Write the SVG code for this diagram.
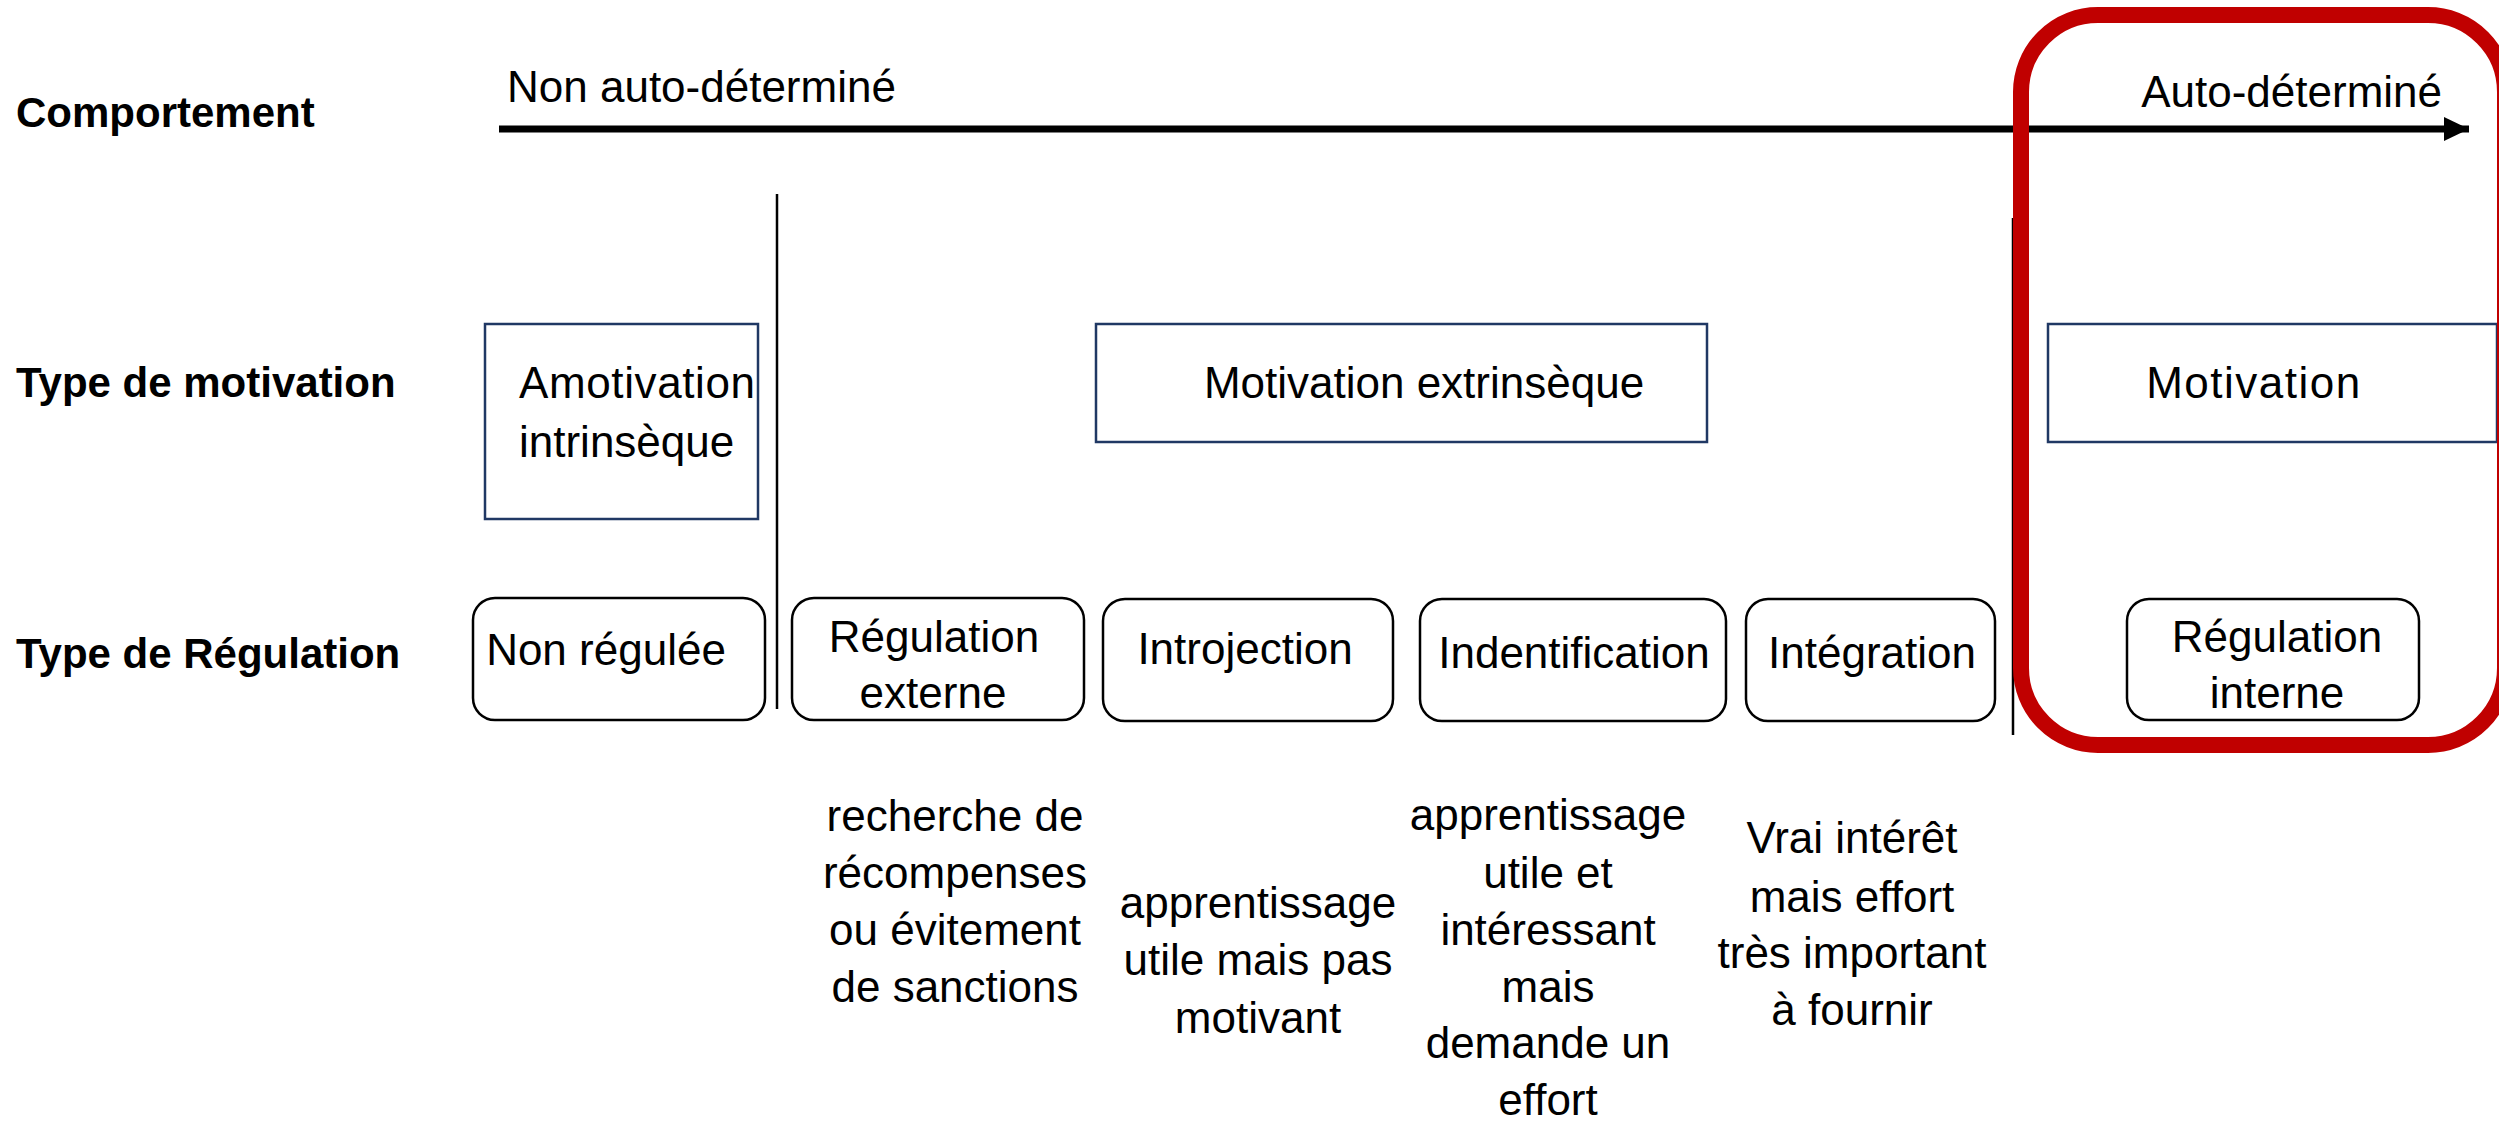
<svg xmlns="http://www.w3.org/2000/svg" width="2499" height="1122" viewBox="0 0 2499 1122">
<style>
text{font-family:"Liberation Sans",Arial,sans-serif;font-size:44px;fill:#000}
.lbl{font-weight:bold;font-size:42px}
.mid{text-anchor:middle}
.mbox{fill:#fff;stroke:#203864;stroke-width:2.5}
.rbox{fill:#fff;stroke:#000;stroke-width:2.5}
.sep{stroke:#000;stroke-width:2.5}
</style>
<defs>
<marker id="ah" markerUnits="userSpaceOnUse" markerWidth="26" markerHeight="26" refX="25" refY="12" orient="auto">
<path d="M0,0 L25,12 L0,24 Z" fill="#000"/>
</marker>
</defs>
<rect width="2499" height="1122" fill="#fff"/>
<g id="labels">
<text class="lbl" x="16" y="127">Comportement</text>
<text class="lbl" x="16" y="397">Type de motivation</text>
<text class="lbl" x="16" y="668">Type de Régulation</text>
</g>
<g id="connectors">
<line x1="499" y1="129" x2="2469" y2="129" stroke="#000" stroke-width="7" marker-end="url(#ah)"/>
<line class="sep" x1="777" y1="194" x2="777" y2="709"/>
<line class="sep" x1="2013" y1="218" x2="2013" y2="735"/>
</g>
<g id="axis-labels">
<text x="507" y="102">Non auto-déterminé</text>
<text x="2442" y="107" text-anchor="end">Auto-déterminé</text>
</g>
<g id="amotivation">
<rect class="mbox" x="485" y="324" width="273" height="195"/>
<text x="519" y="398" textLength="236">Amotivation</text>
<text x="519" y="457">intrinsèque</text>
</g>
<g id="motivation-extrinseque">
<rect class="mbox" x="1096" y="324" width="611" height="118"/>
<text class="mid" x="1424" y="398">Motivation extrinsèque</text>
</g>
<g id="motivation">
<rect class="mbox" x="2048" y="324" width="449" height="118"/>
<text class="mid" x="2254" y="398" letter-spacing="1.5">Motivation</text>
</g>
<g id="non-regulee">
<rect class="rbox" x="473" y="598" width="292" height="122" rx="22"/>
<text class="mid" x="606" y="665">Non régulée</text>
</g>
<g id="regulation-externe">
<rect class="rbox" x="792" y="598" width="292" height="122" rx="22"/>
<text class="mid" x="934" y="652">Régulation</text>
<text class="mid" x="933" y="708">externe</text>
</g>
<g id="introjection">
<rect class="rbox" x="1103" y="599" width="290" height="122" rx="22"/>
<text class="mid" x="1245" y="664">Introjection</text>
</g>
<g id="identification">
<rect class="rbox" x="1420" y="599" width="306" height="122" rx="22"/>
<text class="mid" x="1574" y="668">Indentification</text>
</g>
<g id="integration">
<rect class="rbox" x="1746" y="599" width="249" height="122" rx="22"/>
<text class="mid" x="1872" y="668">Intégration</text>
</g>
<g id="regulation-interne">
<rect class="rbox" x="2127" y="599" width="292" height="121" rx="22"/>
<text class="mid" x="2277" y="652">Régulation</text>
<text class="mid" x="2277" y="708">interne</text>
</g>
<g id="desc-externe">
<text class="mid" x="955" y="831">recherche de</text>
<text class="mid" x="955" y="888">récompenses</text>
<text class="mid" x="955" y="945">ou évitement</text>
<text class="mid" x="955" y="1002">de sanctions</text>
</g>
<g id="desc-introjection">
<text class="mid" x="1258" y="918">apprentissage</text>
<text class="mid" x="1258" y="975">utile mais pas</text>
<text class="mid" x="1258" y="1033">motivant</text>
</g>
<g id="desc-identification">
<text class="mid" x="1548" y="830">apprentissage</text>
<text class="mid" x="1548" y="888">utile et</text>
<text class="mid" x="1548" y="945">intéressant</text>
<text class="mid" x="1548" y="1002">mais</text>
<text class="mid" x="1548" y="1058">demande un</text>
<text class="mid" x="1548" y="1115">effort</text>
</g>
<g id="desc-integration">
<text class="mid" x="1852" y="853">Vrai intérêt</text>
<text class="mid" x="1852" y="912">mais effort</text>
<text class="mid" x="1852" y="968">très important</text>
<text class="mid" x="1852" y="1025">à fournir</text>
</g>
<g id="highlight">
<rect x="2021" y="15" width="484" height="730" rx="77" fill="none" stroke="#C00000" stroke-width="16"/>
</g>
</svg>
